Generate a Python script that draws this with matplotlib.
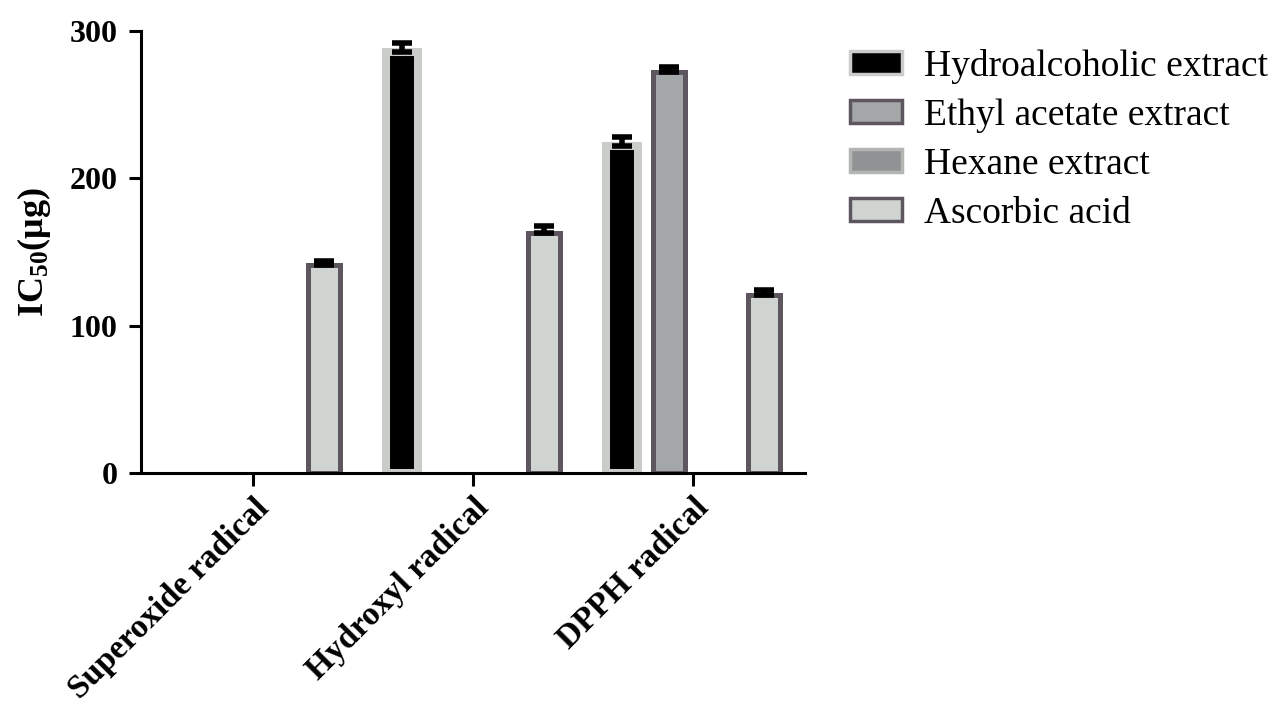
import matplotlib
matplotlib.use("Agg")
import matplotlib.pyplot as plt
import numpy as np
from matplotlib.patches import Patch

categories = ["Superoxide radical", "Hydroxyl radical", "DPPH radical"]
series = ["Hydroalcoholic extract", "Ethyl acetate extract", "Hexane extract", "Ascorbic acid"]
hydroalcoholic = [0, 286, 222]
ethyl_acetate = [0, 0, 272]
hexane = [0, 0, 0]
ascorbic = [141, 163, 121]
hydro_err = [0, 6, 6]
ethyl_err = [0, 0, 4]
hexane_err = [0, 0, 0]
ascorbic_err = [3, 5, 3]
yticks = [0, 100, 200, 300]

values = [hydroalcoholic, ethyl_acetate, hexane, ascorbic]
errors = [hydro_err, ethyl_err, hexane_err, ascorbic_err]
faces = ["#000000", "#a3a7a7", "#8f9393", "#d0d4d0"]
edges = ["#c9ccc9", "#5e565e", "#b4b6b4", "#5e565e"]
lws = [5.8, 3.6, 3.6, 3.6]

plt.rcParams['font.family'] = ['Liberation Serif', 'DejaVu Serif']
plt.rcParams['mathtext.fontset'] = 'custom'
plt.rcParams['mathtext.rm'] = 'Liberation Serif'
plt.rcParams['mathtext.bf'] = 'Liberation Serif:bold'
plt.rcParams['mathtext.default'] = 'bf'
fig = plt.figure(figsize=(12.76, 7.09), dpi=100)
ax = fig.add_axes([0.1105, 0.333, 0.5205, 0.623])

x = np.arange(len(categories))
step = 0.216
width = 0.145
for i, (vals, errs) in enumerate(zip(values, errors)):
    pos = x + (i - 1.5) * step
    for p, v, e in zip(pos, vals, errs):
        if v <= 0:
            continue
        ax.bar(p, v, width=width, color=faces[i], edgecolor=edges[i], linewidth=lws[i], zorder=2)
        ax.errorbar(p, v, yerr=[[0], [e]], fmt='none', ecolor='black', elinewidth=4,
                    capsize=7, capthick=4, zorder=3)

ax.set_xlim(-0.51, 2.51)
ax.set_ylim(0, 300)
ax.set_yticks(yticks)
ax.set_yticklabels([str(t) for t in yticks], fontsize=23, fontweight='bold')
ax.set_xticks(x)
ax.set_xticklabels(categories, rotation=45, ha='right', rotation_mode='anchor',
                   fontsize=24, fontweight='bold')
ax.set_ylabel("IC$_{50}$(μg)", fontsize=26, fontweight='bold', labelpad=12)
for s in ['top', 'right']:
    ax.spines[s].set_visible(False)
for s in ['left', 'bottom']:
    ax.spines[s].set_linewidth(2.2)
ax.tick_params(axis='both', width=2.2, length=9, color='black')
ax.tick_params(axis='y', pad=8)
ax.tick_params(axis='x', pad=5)

handles = [Patch(facecolor=faces[i], edgecolor=edges[i], linewidth=2.5, label=series[i]) for i in range(4)]
fig.legend(handles=handles, loc='upper left', bbox_to_anchor=(0.6605, 0.942), frameon=False,
           fontsize=27, handlelength=1.39, handleheight=0.58, handletextpad=0.58, labelspacing=0.39,
           borderaxespad=0, borderpad=0.2)

fig.savefig("out.png", dpi=100)
